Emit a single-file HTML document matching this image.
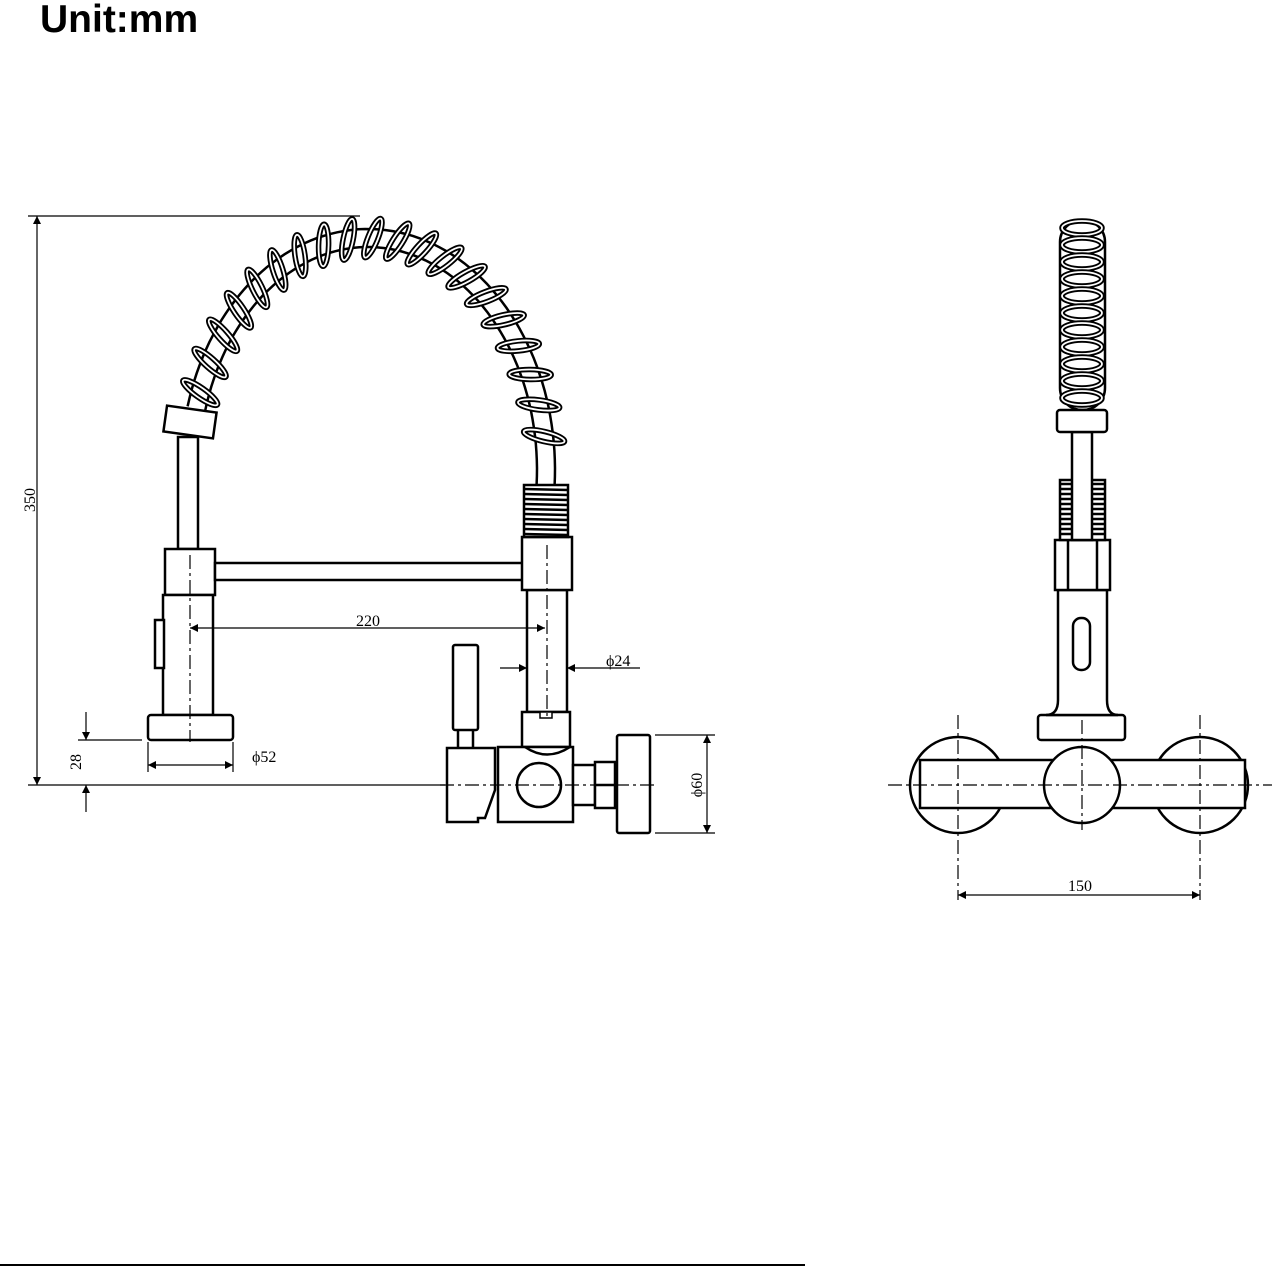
<!DOCTYPE html>
<html><head><meta charset="utf-8"><style>
html,body{margin:0;padding:0;background:#fff;}
svg{display:block}
text{font-family:"Liberation Serif",serif;font-size:16px;fill:#000}
</style></head><body>
<svg id="s" width="1275" height="1267" viewBox="0 0 1275 1267" xmlns="http://www.w3.org/2000/svg">
<defs>
<marker id="b" viewBox="0 0 10 10" refX="10" refY="5" markerWidth="16" markerHeight="8" orient="auto-start-reverse" markerUnits="userSpaceOnUse"><path d="M0,0 L10,5 L0,10z" fill="#000"/></marker>
</defs>
<text x="40" y="32" style="font-family:'Liberation Sans',sans-serif;font-weight:bold;font-size:39px">Unit:mm</text>
<line x1="0" y1="1265" x2="805" y2="1265" stroke="#000" stroke-width="2"/>

<g fill="#fff" stroke="#000" stroke-width="2.5" id="left">
<rect x="178" y="437" width="20" height="112"/>
<rect x="165" y="549" width="50" height="46"/>
<rect x="163" y="595" width="50" height="120"/>
<rect x="155" y="620" width="9" height="48"/>
<rect x="148" y="715" width="85" height="25" rx="3"/>
<rect x="215" y="563" width="308" height="17"/>
<rect x="527" y="590" width="40" height="122"/>
<rect x="522" y="537" width="50" height="53"/>
<rect x="522" y="712" width="48" height="35"/>
<rect x="540" y="712" width="12" height="6" stroke-width="1.5"/>
<path d="M498,747 H573 V822 H498 Z"/>
<path d="M525,747 Q547,762 570,747" fill="none"/>
<rect x="573" y="765" width="22" height="40"/>
<rect x="595" y="762" width="20" height="46"/>
<line x1="595" y1="785" x2="615" y2="785"/>
<rect x="617" y="735" width="33" height="98" rx="2"/>
<circle cx="539" cy="785" r="22"/>
<rect x="453" y="645" width="25" height="85" rx="2"/>
<path d="M458,730 V748 M473,730 V748" fill="none"/>
<path d="M447,748 H495 V790 L485,818 H478 V822 H447 Z"/>
<rect x="524" y="485" width="44" height="52" fill="#fff"/>
</g>
<g id="threads" stroke="#000" stroke-width="2.5"></g>
<g id="tube" fill="none" stroke="#000"></g>
<g fill="#fff" stroke="#000" stroke-width="2.5">
<rect x="-25" y="-13" width="50" height="26" transform="translate(190,422) rotate(8)"/>
</g>

<g fill="#fff" stroke="#000" stroke-width="2.5">
<circle cx="958" cy="785" r="48"/>
<circle cx="1200" cy="785" r="48"/>
<rect x="920" y="760" width="325" height="48"/>
<circle cx="1082" cy="785" r="38"/>
<rect x="1038" y="715" width="87" height="25" rx="3"/>
<path d="M1058,590 H1107 V700 Q1107,715 1118,715 H1046 Q1058,715 1058,700 Z"/>
<rect x="1073" y="618" width="17" height="52" rx="8"/>
<rect x="1055" y="540" width="55" height="50"/>
<path d="M1068,540 V590 M1097,540 V590" fill="none"/>
<rect x="1060" y="480" width="45" height="60" fill="#fff"/>
<rect x="1072" y="432" width="20" height="108"/>
<rect x="1060" y="220" width="45" height="190" rx="22"/>
<rect x="1057" y="410" width="50" height="22" rx="3"/>
</g>
<g id="rs" fill="none" stroke="#000"></g>

<g fill="none" stroke="#000" stroke-width="1.2">
<line x1="28" y1="216" x2="360" y2="216"/>
<line x1="28" y1="785" x2="445" y2="785"/>
<line x1="37" y1="216" x2="37" y2="785" marker-start="url(#b)" marker-end="url(#b)"/>
<line x1="78" y1="740" x2="142" y2="740"/>
<line x1="86" y1="712" x2="86" y2="740" marker-end="url(#b)"/>
<line x1="86" y1="812" x2="86" y2="785" marker-end="url(#b)"/>
<line x1="148" y1="742" x2="148" y2="772"/>
<line x1="233" y1="742" x2="233" y2="772"/>
<line x1="148" y1="765" x2="233" y2="765" marker-start="url(#b)" marker-end="url(#b)"/>
<line x1="190" y1="628" x2="545" y2="628" marker-start="url(#b)" marker-end="url(#b)"/>
<line x1="500" y1="668" x2="527" y2="668" marker-end="url(#b)"/>
<line x1="640" y1="668" x2="567" y2="668" marker-end="url(#b)"/>
<line x1="655" y1="735" x2="715" y2="735"/>
<line x1="655" y1="833" x2="715" y2="833"/>
<line x1="707" y1="735" x2="707" y2="833" marker-start="url(#b)" marker-end="url(#b)"/>
<g stroke-dasharray="14,4,3,4">
<line x1="190" y1="555" x2="190" y2="742"/>
<line x1="547" y1="545" x2="547" y2="720"/>
<line x1="440" y1="785" x2="655" y2="785"/>
<line x1="888" y1="785" x2="1272" y2="785"/>
<line x1="958" y1="715" x2="958" y2="900"/>
<line x1="1200" y1="715" x2="1200" y2="900"/>
<line x1="1082" y1="720" x2="1082" y2="830"/>
</g>
<line x1="958" y1="895" x2="1200" y2="895" marker-start="url(#b)" marker-end="url(#b)"/>
</g>
<text x="368" y="626" text-anchor="middle">220</text>
<text x="606" y="666">ϕ24</text>
<text x="252" y="762">ϕ52</text>
<text x="1080" y="891" text-anchor="middle">150</text>
<text transform="translate(35,500) rotate(-90)" text-anchor="middle">350</text>
<text transform="translate(81,762) rotate(-90)" text-anchor="middle">28</text>
<text transform="translate(702,785) rotate(-90)" text-anchor="middle">ϕ60</text>
</svg>
<script>
var NS="http://www.w3.org/2000/svg";
function el(p,t,a){var e=document.createElementNS(NS,t);for(var k in a)e.setAttribute(k,a[k]);document.getElementById(p).appendChild(e);return e;}
for(var y=489;y<535;y+=5){el("threads","line",{x1:524,y1:y,x2:568,y2:y+1});}
var cx=368,cy=470,rx=178,ry=232;
function pt(th){return [cx+rx*Math.cos(th), cy-ry*Math.sin(th)];}
var t0=Math.PI-0.27, t1=-0.065;
var d1="",d2="";
for(var i=0;i<=80;i++){var th=t0+(t1-t0)*i/80;var p=pt(th);var q=pt(th+0.001);var dx=q[0]-p[0],dy=q[1]-p[1],L=Math.hypot(dx,dy);var nx=-dy/L,ny=dx/L;
d1+=(i?"L":"M")+(p[0]+nx*9).toFixed(1)+","+(p[1]+ny*9).toFixed(1);
d2+=(i?"L":"M")+(p[0]-nx*9).toFixed(1)+","+(p[1]-ny*9).toFixed(1);}
el("tube","path",{d:d1,"stroke-width":2.5});el("tube","path",{d:d2,"stroke-width":2.5});
for(var i=0;i<20;i++){var th=t0+(t1-t0)*(i+0.5)/21;var p=pt(th);var q=pt(th+0.001);var ang=Math.atan2(q[1]-p[1],q[0]-p[0])*180/Math.PI;
var g=el("tube","g",{transform:"translate("+p[0].toFixed(1)+","+p[1].toFixed(1)+") rotate("+(ang+180+20)+")"});
var e1=document.createElementNS(NS,"ellipse");e1.setAttribute("rx",5);e1.setAttribute("ry",21);e1.setAttribute("stroke-width",5.5);g.appendChild(e1);
var e2=document.createElementNS(NS,"ellipse");e2.setAttribute("rx",5);e2.setAttribute("ry",21);e2.setAttribute("stroke","#fff");e2.setAttribute("stroke-width",1.8);g.appendChild(e2);}
for(var y=228;y<405;y+=17){
el("rs","ellipse",{cx:1082,cy:y,rx:20,ry:7,"stroke-width":5.5});el("rs","ellipse",{cx:1082,cy:y,rx:20,ry:7,stroke:"#fff","stroke-width":1.8});}
for(var y=484;y<538;y+=5){el("rs","line",{x1:1061,y1:y,x2:1071,y2:y,"stroke-width":2.5});el("rs","line",{x1:1093,y1:y,x2:1104,y2:y,"stroke-width":2.5});}
</script>
</body></html>
